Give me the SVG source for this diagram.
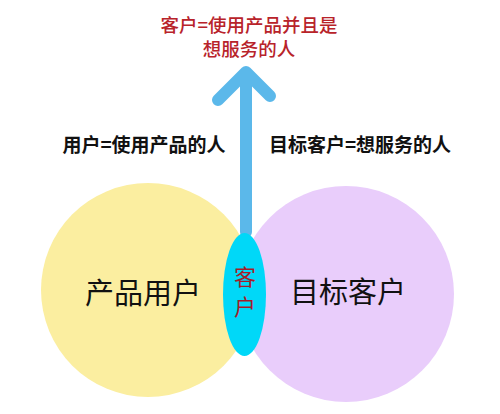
<svg xmlns="http://www.w3.org/2000/svg" width="500" height="414" viewBox="0 0 500 414">
<defs>
<style>
text{font-family:"Noto Sans CJK SC","Noto Sans",sans-serif;text-anchor:middle}
.title{fill:#b8232a;font-size:18.5px;font-weight:500}
.row{fill:#111;font-size:19px;font-weight:bold}
.big{fill:#111;font-size:29px}
.inner{fill:#a51d2a;font-size:22px}
.arrow{fill:none;stroke:#5bb8ea;stroke-width:12;stroke-linecap:round;stroke-linejoin:round}
</style>
</defs>
<rect width="500" height="414" fill="#fff"/>
<g id="product-users">
<circle cx="148" cy="290" r="107" fill="#fbeea0"/>
<text class="big" x="143" y="304">产品用户</text>
</g>
<g id="target-customers">
<circle cx="346" cy="294" r="108" fill="#e9cdfb"/>
<text class="big" x="348" y="303">目标客户</text>
</g>
<g id="connectors">
<path class="arrow" d="M246 232 V76 M218 100 L246 72 L270 96"/>
</g>
<g id="customer">
<ellipse cx="244.5" cy="294.5" rx="21.5" ry="61.5" fill="#00d8f8"/>
<text class="inner" x="245" y="285">客</text>
<text class="inner" x="245" y="315">户</text>
</g>
<g id="labels">
<text class="title" x="249" y="32">客户=使用产品并且是</text>
<text class="title" x="249" y="56">想服务的人</text>
<text class="row" x="144" y="152">用户=使用产品的人</text>
<text class="row" x="360" y="152">目标客户=想服务的人</text>
</g>
</svg>
